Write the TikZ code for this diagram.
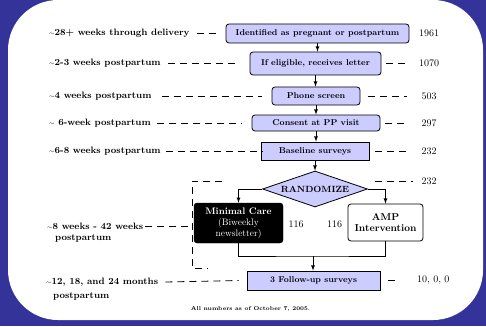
\documentclass[tikz,border=0pt]{standalone}
\usepackage{tikz}
\usetikzlibrary{positioning}
\usetikzlibrary{shapes.geometric}
\definecolor{slideblue}{RGB}{51,51,153}
\definecolor{boxlav}{RGB}{204,204,255}
\newcommand{\apx}{\scalebox{0.75}{$\sim$}}

\begin{document}
\begin{tikzpicture}[x=1pt,y=-1pt,>=latex,
  lbl/.style={anchor=west,inner sep=0pt,font=\fontsize{9.3}{11}\selectfont\bfseries},
  num/.style={inner sep=0pt,font=\fontsize{10}{12}\selectfont},
  stage/.style={draw=black,fill=boxlav,rounded corners=3pt,line width=0.8pt,inner sep=0pt,font=\fontsize{8.5}{10}\selectfont\bfseries},
  sqstage/.style={stage,rounded corners=0pt},
  dashline/.style={black,line width=0.8pt,dash pattern=on 7pt off 5pt},
  flow/.style={black,line width=0.8pt}]

\useasboundingbox (0,0) rectangle (486,326);
\fill[slideblue] (0,0) rectangle (486,326);
\fill[white, rounded corners=50pt] (8,0) rectangle (483,320);

% stages
\node[stage, minimum width=183pt, minimum height=19pt] (b1) at (317.5,33.5) {Identified as pregnant or postpartum};
\node[stage, minimum width=131pt, minimum height=23pt] (b2) at (315.5,63.5) {If eligible, receives letter};
\node[stage, minimum width=88pt, minimum height=18pt] (b3) at (316,96) {Phone screen};
\node[stage, minimum width=128pt, minimum height=16pt] (b4) at (316,123) {Consent at PP visit};
\node[sqstage, minimum width=108pt, minimum height=18pt] (b5) at (315,151) {Baseline surveys};
\node[draw=black, fill=boxlav, diamond, aspect=2.9, minimum width=105pt, minimum height=36pt, inner sep=0pt, line width=0.8pt, font=\fontsize{9}{10}\selectfont\bfseries] (rnd) at (315,189) {RANDOMIZE};
\node[draw=black, fill=black, text=white, rounded corners=3pt, minimum width=89pt, minimum height=40pt, inner sep=0pt, align=center, font=\fontsize{9.5}{11}\selectfont] (mc) at (238.5,223) {\textbf{Minimal Care}\\(Biweekly\\newsletter)};
\node[draw=black, fill=white, rounded corners=3pt, line width=0.8pt, minimum width=75pt, minimum height=37pt, inner sep=0pt, align=center, font=\fontsize{10}{11}\selectfont\bfseries] (amp) at (385.5,222.5) {AMP\\Intervention};
\node[sqstage, minimum width=133pt, minimum height=19pt] (fu) at (313.5,280.5) {3 Follow-up surveys};

% time labels
\node[lbl] (l1) at (49,33.5) {\apx28+ weeks through delivery};
\node[lbl] (l2) at (49,63.5) {\apx2-3 weeks postpartum};
\node[lbl] (l3) at (49,96) {\apx4 weeks postpartum};
\node[lbl] (l4) at (49,123) {\apx\ 6-week postpartum};
\node[lbl] (l5) at (49,151) {\apx6-8 weeks postpartum};
\node[lbl] (l6) at (47,226) {\apx8 weeks - 42 weeks};
\node[lbl] (l6b) at (55,238) {postpartum};
\node[lbl] (l7) at (46,282) {\apx12, 18, and 24 months};
\node[lbl] (l7b) at (53,296) {postpartum};

% counts
\node[num] (n1) at (429,33.5) {1961};
\node[num] (n2) at (429,63.5) {1070};
\node[num] (n3) at (429,96) {503};
\node[num] (n4) at (429,123) {297};
\node[num] (n5) at (429,151) {232};
\node[num] (n6) at (429,181) {232};
\node[num] (nmc) at (296,224) {116};
\node[num] (namp) at (334.5,224) {116};
\node[num, anchor=west] (n7) at (417,280.5) {10, 0, 0};

\node[inner sep=0pt, font=\fontsize{5.6}{7}\selectfont\bfseries] (note) at (250.5,309) {All numbers as of October 7, 2005.};

\coordinate (rx) at (407,0);
\coordinate (rdash) at (375,181);
\coordinate (bk1) at (222,181);
\coordinate (bk2) at (192,181);
\coordinate (bk3) at (192,268);
\coordinate (bk4) at (208,268);
\coordinate (jn) at (313,256);

% dashed leaders
\draw[dashline] ([xshift=7pt]l1.east) -- ([xshift=-10pt]b1.west);
\draw[dashline] ([xshift=7pt]l2.east) -- ([xshift=-13pt]b2.west);
\draw[dashline] ([xshift=10pt]l3.east) -- ([xshift=-10pt]b3.west);
\draw[dashline] ([xshift=6pt]l4.east) -- ([xshift=-10pt]b4.west);
\draw[dashline] ([xshift=5pt]l5.east) -- ([xshift=2pt]b5.west);
\draw[dashline] ([xshift=2pt]l6.east) -- (l6.east -| bk2);
\draw[dashline] ([xshift=7pt]l7.east) -- ([xshift=-8pt]fu.west);

\draw[dashline] ([xshift=5pt]b2.east) -- (b2.east -| rx);
\draw[dashline] ([xshift=8pt]b3.east) -- (b3.east -| rx);
\draw[dashline] ([xshift=5pt]b4.east) -- (b4.east -| rx);
\draw[dashline] ([xshift=6pt]b5.east) -- (b5.east -| rx);
\draw[dashline] (rdash) -- ([xshift=-8pt]n6.west);
\draw[dashline] ([xshift=8pt]fu.east) -- ([xshift=17pt]fu.east);

\draw[dashline] (bk1) -- (bk2) -- (bk3) -- (bk4);

% flow
\draw[flow,->] (b1.south) -- (b1.south |- b2.north);
\draw[flow,->] (b2.south) -- (b2.south |- b3.north);
\draw[flow,->] (b3.south) -- (b3.south |- b4.north);
\draw[flow,->] (b4.south) -- (b4.south |- b5.north);
\draw[flow,->] (b5.south) -- (rnd.north);
\draw[flow,->] (rnd.west) -| (mc.north);
\draw[flow,->] (rnd.east) -| (amp.north);
\draw[flow] (mc.south) |- (jn) -| (amp.south);
\draw[flow,->] (jn) -- (jn |- fu.north);

\end{tikzpicture}
\end{document}
